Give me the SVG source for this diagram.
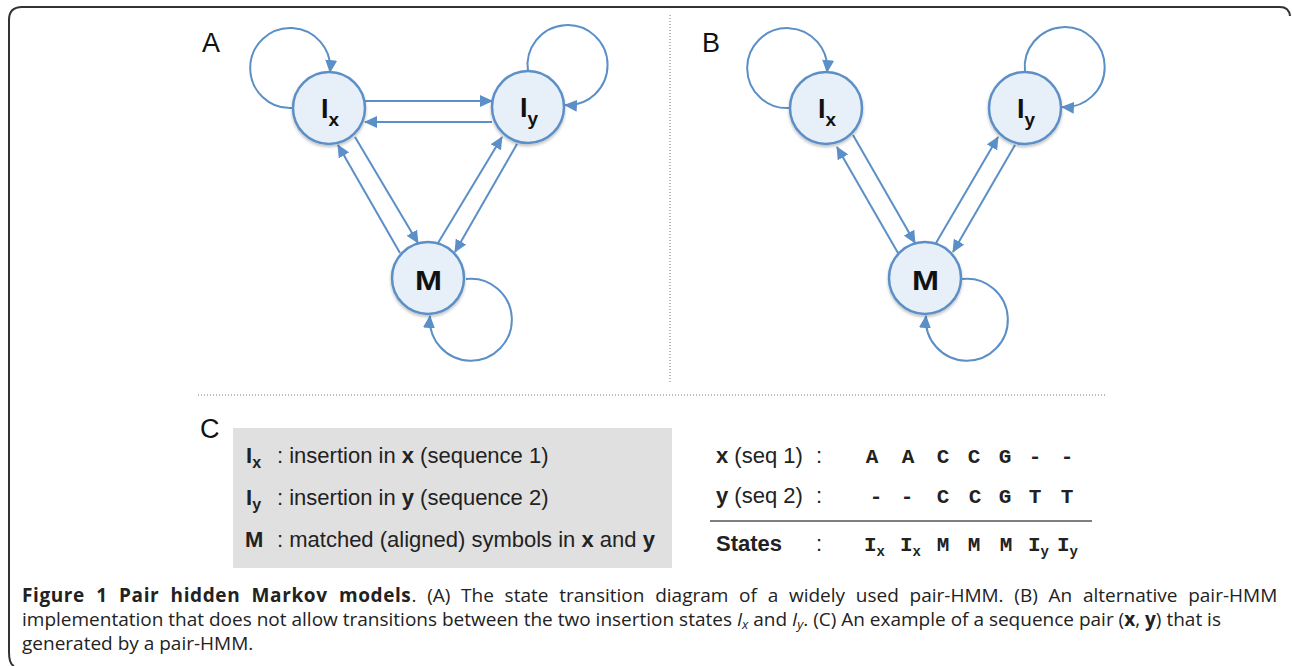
<svg xmlns="http://www.w3.org/2000/svg" width="1292" height="666" viewBox="0 0 1292 666">
<style>
.edge{fill:none;stroke:#5b8fc7;stroke-width:2}
.node{fill:#e7eff9;stroke:#5b8fc7;stroke-width:2.5}
.nl{font-family:"Liberation Sans",Arial,sans-serif;font-weight:bold;fill:#111}
.pl{font-family:"Liberation Sans",Arial,sans-serif;font-size:27px;fill:#111}
.lg{font-family:"Liberation Sans",Arial,sans-serif;font-size:22px;fill:#222}
.mono{font-family:"Liberation Mono","Courier New",monospace;font-weight:bold;font-size:21px;fill:#222}
.cap{font-family:"Open Sans",sans-serif;font-size:19px;fill:#222}
.dot{stroke:#777;stroke-width:1;stroke-dasharray:1 2;fill:none}
</style>
<defs>
<marker id="ah" markerUnits="userSpaceOnUse" markerWidth="13" markerHeight="12" refX="12" refY="6" orient="auto">
<path d="M0,0 L13,6 L0,12 z" fill="#5b8fc7"/>
</marker>
<filter id="sh" x="-30%" y="-30%" width="160%" height="160%">
<feDropShadow dx="0" dy="2" stdDeviation="1.5" flood-color="#000" flood-opacity="0.25"/>
</filter>
</defs>
<rect width="1292" height="666" fill="#fff"/>
<path d="M1290 16 Q1289 7 1280 7 L22 7 Q9 7 9 20 L9 652 Q9 664 14 666" fill="none" stroke="#333" stroke-width="2"/>
<line class="dot" x1="670" y1="15" x2="670" y2="383"/>
<line class="dot" x1="198" y1="395" x2="1105" y2="395"/>
<text class="pl" x="202" y="52">A</text>
<text class="pl" x="702" y="52">B</text>
<text class="pl" x="200" y="438">C</text>
<g id="connectors">
<path class="edge" marker-end="url(#ah)" d="M292 108 A40 40 0 1 1 330 72"/>
<path class="edge" marker-end="url(#ah)" d="M528 71 A40 40 0 1 1 565 105"/>
<path class="edge" marker-end="url(#ah)" d="M466 279 A41 41 0 1 1 430 316"/>
<path class="edge" marker-end="url(#ah)" d="M365 101 L492 101"/>
<path class="edge" marker-end="url(#ah)" d="M492 122 L365 122"/>
<path class="edge" marker-end="url(#ah)" d="M355 137 L418 243"/>
<path class="edge" marker-end="url(#ah)" d="M400 253 L338 145"/>
<path class="edge" marker-end="url(#ah)" d="M438 243 L502 137"/>
<path class="edge" marker-end="url(#ah)" d="M517 144 L455 252"/>
<path class="edge" marker-end="url(#ah)" d="M790 108 A40 40 0 1 1 827 72"/>
<path class="edge" marker-end="url(#ah)" d="M1025 72 A40 40 0 1 1 1062 107"/>
<path class="edge" marker-end="url(#ah)" d="M962 279 A41 41 0 1 1 926 316"/>
<path class="edge" marker-end="url(#ah)" d="M853 135 L915 243"/>
<path class="edge" marker-end="url(#ah)" d="M898 253 L837 147"/>
<path class="edge" marker-end="url(#ah)" d="M936 243 L998 137"/>
<path class="edge" marker-end="url(#ah)" d="M1015 145 L953 252"/>
</g>
<g id="A-Ix"><circle class="node" filter="url(#sh)" cx="329" cy="108" r="36"/><text class="nl" x="330" y="118" text-anchor="middle" font-size="27">I<tspan font-size="19" dy="8">x</tspan></text></g>
<g id="A-Iy"><circle class="node" filter="url(#sh)" cx="528" cy="107" r="36"/><text class="nl" x="529" y="117" text-anchor="middle" font-size="27">I<tspan font-size="19" dy="8">y</tspan></text></g>
<g id="A-M"><circle class="node" filter="url(#sh)" cx="428" cy="278" r="36"/><text class="nl" x="415" y="290" font-size="28" textLength="27" lengthAdjust="spacingAndGlyphs">M</text></g>
<g id="B-Ix"><circle class="node" filter="url(#sh)" cx="826" cy="108" r="36"/><text class="nl" x="827" y="118" text-anchor="middle" font-size="27">I<tspan font-size="19" dy="8">x</tspan></text></g>
<g id="B-Iy"><circle class="node" filter="url(#sh)" cx="1025" cy="108" r="36"/><text class="nl" x="1026" y="118" text-anchor="middle" font-size="27">I<tspan font-size="19" dy="8">y</tspan></text></g>
<g id="B-M"><circle class="node" filter="url(#sh)" cx="925" cy="278" r="36"/><text class="nl" x="912" y="290" font-size="28" textLength="27" lengthAdjust="spacingAndGlyphs">M</text></g>
<g id="legend">
<rect x="233" y="428" width="439" height="140" fill="#e0e0e0"/>
<text class="lg" x="246" y="463" font-weight="bold">I<tspan font-size="16" dy="5">x</tspan></text>
<text class="lg" x="277" y="463">: insertion in <tspan font-weight="bold">x</tspan> (sequence 1)</text>
<text class="lg" x="246" y="505" font-weight="bold">I<tspan font-size="16" dy="5">y</tspan></text>
<text class="lg" x="277" y="505">: insertion in <tspan font-weight="bold">y</tspan> (sequence 2)</text>
<text class="lg" x="245" y="547" font-weight="bold">M</text>
<text class="lg" x="277" y="547">: matched (aligned) symbols in <tspan font-weight="bold">x</tspan> and <tspan font-weight="bold">y</tspan></text>
</g>
<g id="alignment">
<text class="lg" x="716" y="463"><tspan font-weight="bold">x</tspan> (seq 1)</text>
<text class="lg" x="816" y="463">:</text>
<text class="lg" x="716" y="503"><tspan font-weight="bold">y</tspan> (seq 2)</text>
<text class="lg" x="816" y="503">:</text>
<line x1="710" y1="521" x2="1092" y2="521" stroke="#555" stroke-width="1.5"/>
<text class="lg" x="716" y="551" font-weight="bold">States</text>
<text class="lg" x="816" y="551">:</text>
<g class="mono" text-anchor="middle">
<text x="872" y="463">A</text><text x="908" y="463">A</text><text x="943" y="463">C</text><text x="974" y="463">C</text><text x="1005" y="463">G</text><text x="1035" y="463">-</text><text x="1067" y="463">-</text>
<text x="876" y="503">-</text><text x="907" y="503">-</text><text x="943" y="503">C</text><text x="975" y="503">C</text><text x="1005" y="503">G</text><text x="1035" y="503">T</text><text x="1067" y="503">T</text>
<text x="943" y="551">M</text><text x="974" y="551">M</text><text x="1006" y="551">M</text>
</g>
<text class="mono" x="864" y="551">I<tspan font-size="14" dy="5">x</tspan></text>
<text class="mono" x="900" y="551">I<tspan font-size="14" dy="5">x</tspan></text>
<text class="mono" x="1028" y="551">I<tspan font-size="14" dy="5">y</tspan></text>
<text class="mono" x="1057" y="551">I<tspan font-size="14" dy="5">y</tspan></text>
</g>
<g id="caption" class="cap">
<text x="22" y="602" word-spacing="5.8"><tspan font-weight="bold" letter-spacing="0.6">Figure 1 Pair hidden Markov models</tspan>. (A) The state transition diagram of a widely used pair-HMM. (B) An alternative pair-HMM</text>
<text x="22" y="626">implementation that does not allow transitions between the two insertion states <tspan font-style="italic">I<tspan font-size="13" dy="3">x</tspan></tspan><tspan dy="-3"> and </tspan><tspan font-style="italic">I<tspan font-size="13" dy="3">y</tspan></tspan><tspan dy="-3">. (C) An example of a sequence pair (</tspan><tspan font-weight="bold">x</tspan>, <tspan font-weight="bold">y</tspan>) that is</text>
<text x="22" y="650">generated by a pair-HMM.</text>
</g>
</svg>
